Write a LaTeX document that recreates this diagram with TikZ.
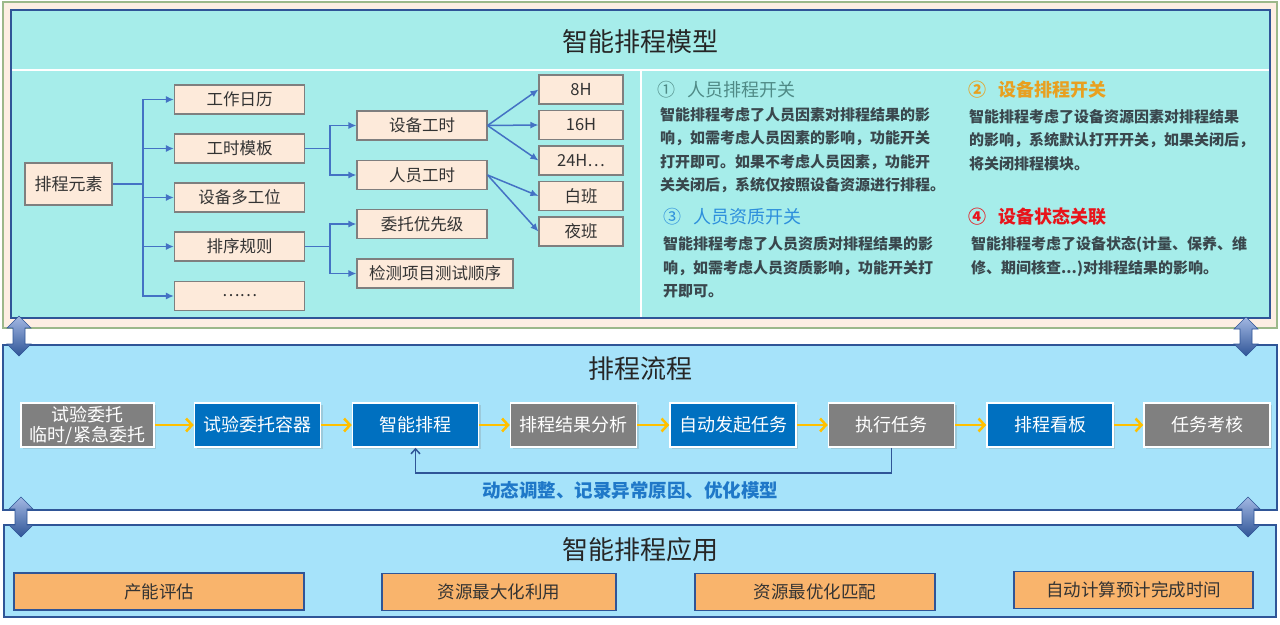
\documentclass[tikz,border=0pt]{standalone}
\usepackage{fontspec}
\setmainfont{Noto Sans CJK SC}
\usetikzlibrary{arrows.meta,shadows}
\definecolor{cPeach}{HTML}{FDEEE3}
\definecolor{cGreenB}{HTML}{9CB88A}
\definecolor{cTeal}{HTML}{A6EDEA}
\definecolor{cDBlue}{HTML}{2F5597}
\definecolor{cSky}{HTML}{A6E3FA}
\definecolor{cTFill}{HTML}{FDEADA}
\definecolor{cTGray}{HTML}{7F7F7F}
\definecolor{cTBlue}{HTML}{4472C4}
\definecolor{cFBlue}{HTML}{0070C0}
\definecolor{cFGray}{HTML}{808080}
\definecolor{cOrangeA}{HTML}{FFC000}
\definecolor{cOBox}{HTML}{F9B46C}
\definecolor{cLabel}{HTML}{1F78C8}
\definecolor{cBody}{HTML}{3A474D}
\definecolor{cH1}{HTML}{4F8A86}
\definecolor{cH2}{HTML}{E8A020}
\definecolor{cH3}{HTML}{2D8FDC}
\definecolor{cH4}{HTML}{E8141B}
\definecolor{cArrLight}{HTML}{A3B8E3}
\definecolor{cArrDark}{HTML}{2F5597}
\newcommand\mydblarrow[3]{%
  \path[draw=cDBlue, line width=0.6pt, top color=cArrLight, bottom color=cArrDark]
  (#1,#2) -- ++(12,12) -- ++(-6,0) -- (#1+6,#3-12) -- ++(6,0) -- (#1,#3)
  -- ++(-12,-12) -- ++(6,0) -- (#1-6,#2+12) -- ++(-6,0) -- cycle;}
\begin{document}
\begin{tikzpicture}[x=1pt,y=-1pt,
  tbox/.style={draw=cTGray, fill=cTFill, line width=1.1pt, minimum height=29pt,
    minimum width=130pt, inner sep=0pt, text=black!80, font=\fontsize{16.5}{19}\selectfont},
  lbox/.style={tbox, minimum width=84pt},
  conn/.style={cTBlue, line width=1.5pt, -{Latex[length=8pt,width=7pt]}},
  connp/.style={cTBlue, line width=1.5pt},
  fbox/.style={draw=white, line width=1.5pt, minimum width=126pt, minimum height=44pt,
    inner sep=0pt, text=white, align=center, font=\fontsize{18}{20}\selectfont,
    drop shadow={opacity=0.25, shadow xshift=2pt, shadow yshift=-2pt}},
  fb/.style={fbox, fill=cFBlue},
  fg/.style={fbox, fill=cFGray},
  oarrow/.style={cOrangeA, line width=2.5pt, -{Straight Barb[length=6pt,width=13pt]}},
  fbline/.style={cDBlue, line width=1.5pt, -{Straight Barb[length=5pt,width=9pt]}},
  obox/.style={draw=cDBlue, fill=cOBox, line width=1.3pt, minimum height=37pt, inner sep=0pt,
    text=black!80, font=\fontsize{17.5}{20}\selectfont},
  title/.style={text=black!85, font=\fontsize{26}{30}\selectfont},
  head/.style={inner sep=0pt, anchor=west, font=\fontsize{18}{22}\selectfont},
  body/.style={align=left, inner sep=0pt, anchor=north west, text=cBody,
    font=\fontsize{15}{23.3}\selectfont\bfseries}
]
\useasboundingbox (0,0) rectangle (1280,624);
\fill[white] (0,0) rectangle (1280,624);

% ---------- top panel ----------
\draw[fill=cPeach, draw=cGreenB, line width=1.2pt] (3,2) rectangle (1277,328);
\draw[fill=cTeal, draw=cDBlue, line width=1.5pt] (11,10) rectangle (1270,318);
\draw[white, line width=2pt] (12,70) -- (1269,70);
\draw[white, line width=2pt] (641,71) -- (641,317);
\node[title] (t1) at (640,42) {智能排程模型};

% tree
\node[tbox, minimum width=87pt, minimum height=42pt, font=\fontsize{17}{20}\selectfont] (root) at (68.5,184) {排程元素};
\node[tbox] (n1) at (239.5,99.5) {工作日历};
\node[tbox] (n2) at (239.5,148.5) {工时模板};
\node[tbox] (n3) at (239.5,197.5) {设备多工位};
\node[tbox] (n4) at (239.5,246.5) {排序规则};
\node[tbox] (n5) at (239.5,296) {……};
\node[tbox] (s1) at (422,125.5) {设备工时};
\node[tbox] (s2) at (422,175) {人员工时};
\node[tbox] (s3) at (422,224) {委托优先级};
\node[tbox, minimum width=156pt] (s4) at (435,273.5) {检测项目测试顺序};
\node[lbox] (h8) at (581,89.5) {8H};
\node[lbox] (h16) at (581,125) {16H};
\node[lbox] (h24) at (581,160.5) {24H…};
\node[lbox] (hb) at (581,196) {白班};
\node[lbox] (hy) at (581,231.5) {夜班};

\coordinate (j1) at (143,184);
\draw[connp] (root.east) -- (j1);
\foreach \n in {n1,n2,n3,n4,n5} \draw[conn] (j1) |- (\n.west);
\coordinate (j2) at (330,148.5);
\draw[connp] (n2.east) -- (j2);
\draw[conn] (j2) |- (s1.west);
\draw[conn] (j2) |- (s2.west);
\coordinate (j3) at (330,246.5);
\draw[connp] (n4.east) -- (j3);
\draw[conn] (j3) |- (s3.west);
\draw[conn] (j3) |- (s4.west);
\draw[conn] (s1.east) -- (h8.west);
\draw[conn] (s1.east) -- (h16.west);
\draw[conn] (s1.east) -- (h24.west);
\draw[conn] (s2.east) -- (hb.west);
\draw[conn] (s2.east) -- (hy.west);

% right text
\node[head, text=cH1] (q1) at (657,90) {①\hspace{12pt}人员排程开关};
\node[body] (p1) at (660,107.5) {智能排程考虑了人员因素对排程结果的影\\响，如需考虑人员因素的影响，功能开关\\打开即可。如果不考虑人员因素，功能开\\关关闭后，系统仅按照设备资源进行排程。};
\node[head, text=cH2, font=\fontsize{18}{22}\selectfont\bfseries] (q2) at (968,90) {②\hspace{12pt}设备排程开关};
\node[body] (p2) at (969,109.5) {智能排程考虑了设备资源因素对排程结果\\的影响，系统默认打开开关，如果关闭后，\\将关闭排程模块。};
\node[head, text=cH3] (q3) at (663,217) {③\hspace{12pt}人员资质开关};
\node[body] (p3) at (663,236.5) {智能排程考虑了人员资质对排程结果的影\\响，如需考虑人员资质影响，功能开关打\\开即可。};
\node[head, text=cH4, font=\fontsize{18}{22}\selectfont\bfseries] (q4) at (968,217) {④\hspace{12pt}设备状态关联};
\node[body] (p4) at (971,236.5) {智能排程考虑了设备状态(计量、保养、维\\修、期间核查...)对排程结果的影响。};

% ---------- middle panel ----------
\draw[fill=cSky, draw=cDBlue, line width=1.2pt] (3,345) rectangle (1277,510);
\node[title] (t2) at (640,369) {排程流程};
\node[fg, minimum width=133pt] (f1) at (87.5,425) {试验委托\\临时/紧急委托};
\node[fb] (f2) at (257.5,425) {试验委托容器};
\node[fb] (f3) at (415.5,425) {智能排程};
\node[fg] (f4) at (573.5,425) {排程结果分析};
\node[fb] (f5) at (733,425) {自动发起任务};
\node[fg] (f6) at (891.5,425) {执行任务};
\node[fb] (f7) at (1050,425) {排程看板};
\node[fg] (f8) at (1207,425) {任务考核};
\draw[oarrow] (f1.east) -- (f2.west);
\draw[oarrow] (f2.east) -- (f3.west);
\draw[oarrow] (f3.east) -- (f4.west);
\draw[oarrow] (f4.east) -- (f5.west);
\draw[oarrow] (f5.east) -- (f6.west);
\draw[oarrow] (f6.east) -- (f7.west);
\draw[oarrow] (f7.east) -- (f8.west);
\draw[fbline] (f6.south) -- ++(0,25) -| (f3.south);
\node[text=cLabel, font=\fontsize{18.5}{22}\selectfont\bfseries] (lab) at (630,490) {动态调整、记录异常原因、优化模型};

% ---------- bottom panel ----------
\draw[fill=cSky, draw=cDBlue, line width=1.2pt] (4,525) rectangle (1276,617);
\node[title] (t3) at (640,550) {智能排程应用};
\node[obox, minimum width=290pt] (b1) at (159,591.5) {产能评估};
\node[obox, minimum width=234pt] (b2) at (499,592) {资源最大化利用};
\node[obox, minimum width=240pt] (b3) at (815,592) {资源最优化匹配};
\node[obox, minimum width=239pt] (b4) at (1133.5,590) {自动计算预计完成时间};

% double arrows
\mydblarrow{19}{316}{356}
\mydblarrow{1246}{317}{356}
\mydblarrow{21}{497}{537}
\mydblarrow{1248}{497}{537}
\end{tikzpicture}
\end{document}
